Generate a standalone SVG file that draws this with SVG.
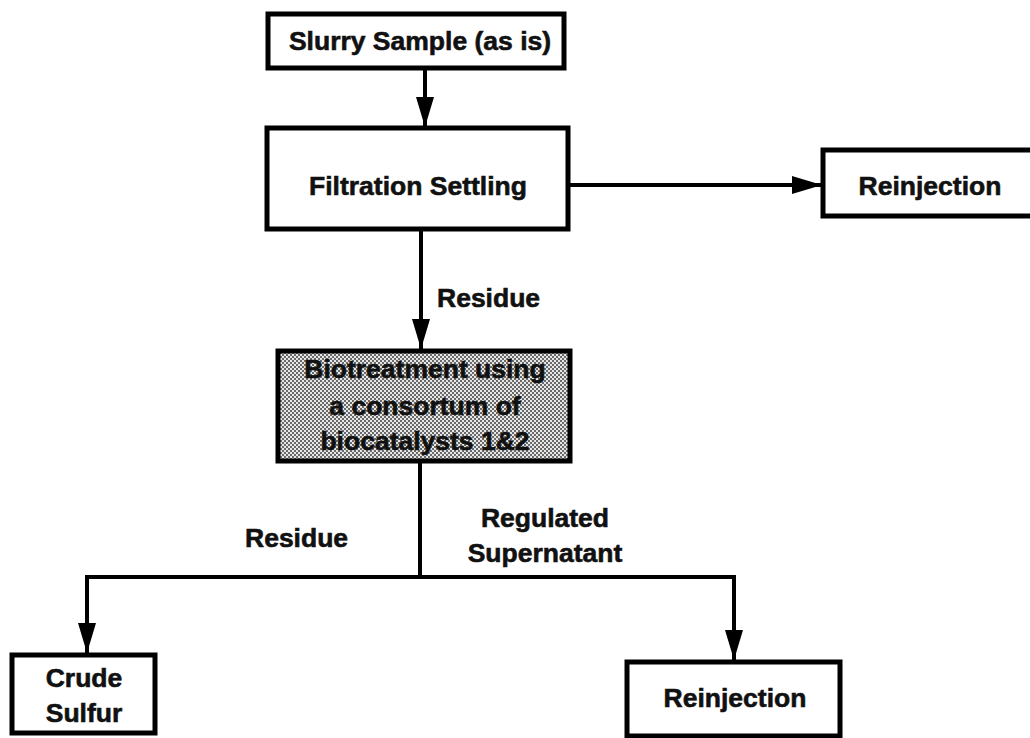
<svg xmlns="http://www.w3.org/2000/svg" width="1030" height="738" viewBox="0 0 1030 738">
  <style>
    .box { fill: #ffffff; stroke: #000000; stroke-width: 5; }
    .shade { fill: url(#stipple); stroke: #000000; stroke-width: 5; }
    .lbl { font-family: "Liberation Sans", Arial, sans-serif; font-weight: bold; font-size: 26.5px; fill: #111111; stroke: #111111; stroke-width: 0.6; }
    .mid { text-anchor: middle; }
    .conn { fill: none; stroke: #000000; stroke-width: 4; }
  </style>
  <defs>
    <pattern id="stipple" width="4" height="4" patternUnits="userSpaceOnUse">
      <rect width="4" height="4" fill="#e6e6e6"/>
      <rect width="2" height="2" fill="#6a6a6a"/>
      <rect x="2" y="2" width="2" height="2" fill="#6a6a6a"/>
    </pattern>
    <marker id="arrow" markerUnits="userSpaceOnUse" markerWidth="30" markerHeight="18" refX="30" refY="9" orient="auto">
      <path d="M0,0 L30,9 L0,18 Z" fill="#000000"/>
    </marker>
  </defs>
  <rect width="1030" height="738" fill="#ffffff"/>

  <g id="connectors">
    <line class="conn" x1="425" y1="69" x2="425" y2="127" marker-end="url(#arrow)"/>
    <line class="conn" x1="570" y1="185" x2="822" y2="185" marker-end="url(#arrow)"/>
    <line class="conn" x1="421" y1="231" x2="421" y2="349" marker-end="url(#arrow)"/>
    <line class="conn" x1="420" y1="463" x2="420" y2="577"/>
    <polyline class="conn" points="420,577 87,577 87,653" marker-end="url(#arrow)"/>
    <polyline class="conn" points="420,577 734,577 734,660" marker-end="url(#arrow)"/>
  </g>

  <g id="slurry">
    <rect class="box" x="268" y="14" width="296" height="54"/>
    <text class="lbl mid" x="420" y="50">Slurry Sample (as is)</text>
  </g>
  <g id="filtration">
    <rect class="box" x="267" y="128" width="301" height="101"/>
    <text class="lbl mid" x="418" y="195">Filtration Settling</text>
  </g>
  <g id="reinjection-top">
    <rect class="box" x="823" y="150" width="230" height="66"/>
    <text class="lbl mid" x="930" y="195">Reinjection</text>
  </g>
  <g id="residue-label-1">
    <text class="lbl" x="437" y="307">Residue</text>
  </g>
  <g id="biotreatment">
    <rect class="shade" x="278" y="351" width="292" height="110"/>
    <text class="lbl mid" x="425" y="378">Biotreatment using</text>
    <text class="lbl mid" x="425" y="415">a consortum of</text>
    <text class="lbl mid" x="425" y="450">biocatalysts 1&amp;2</text>
  </g>
  <g id="residue-label-2">
    <text class="lbl" x="245" y="547">Residue</text>
  </g>
  <g id="supernatant-label">
    <text class="lbl mid" x="545" y="527">Regulated</text>
    <text class="lbl mid" x="545" y="562">Supernatant</text>
  </g>
  <g id="crude-sulfur">
    <rect class="box" x="12" y="655" width="143" height="78"/>
    <text class="lbl mid" x="84" y="687">Crude</text>
    <text class="lbl mid" x="84" y="722">Sulfur</text>
  </g>
  <g id="reinjection-bottom">
    <rect class="box" x="627" y="662" width="213" height="74"/>
    <text class="lbl mid" x="735" y="707">Reinjection</text>
  </g>
</svg>
